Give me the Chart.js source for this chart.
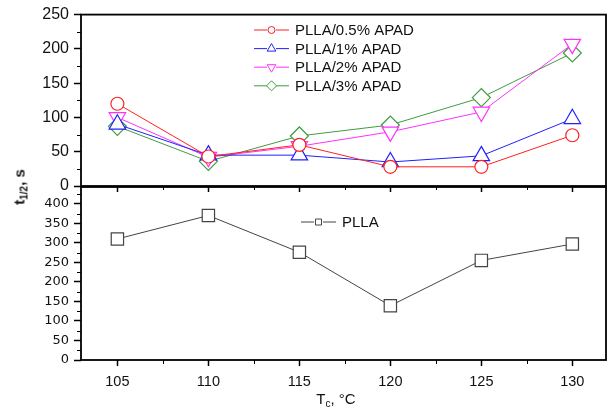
<!DOCTYPE html>
<html lang="en">
<head>
    <meta charset="UTF-8">
    <title>t1/2 vs Tc</title>
    <script src="https://cdn.jsdelivr.net/npm/chart.js"></script>
    <style>
        body { margin: 0; background: #fff; }
        #wrap { position: relative; width: 608px; height: 409px; }
        canvas { position: absolute; left: 0; top: 0; }
        .title { position: absolute; font-family: 'Liberation Sans', Arial, sans-serif; color: #111; white-space: nowrap; }
        .title sub { font-size: 10px; vertical-align: -3px; }
        #ytitle { left: 20px; top: 187px; font-size: 15px; font-weight: bold; transform: translate(-50%, -50%) rotate(-90deg); }
        #xtitle { left: 336px; top: 399px; font-size: 15px; transform: translate(-50%, -50%); }
    </style>
</head>
<body>
    <div id="wrap">
        <canvas id="topChart" width="608" height="409"></canvas>
        <canvas id="bottomChart" width="608" height="409"></canvas>
        <div class="title" id="ytitle">t<sub>1/2</sub>, s</div>
        <div class="title" id="xtitle">T<sub>c</sub>, °C</div>
    </div>

    <script>
        // data
        var temps = [105, 110, 115, 120, 125, 130];
        var apad05 = [120, 43, 60, 28, 28, 74];
        var apad1 = [90, 45, 45, 35, 44, 98];
        var apad2 = [100, 42, 58, 79, 108, 207];
        var apad3 = [87, 36, 73, 89, 129, 194];
        var plla = [310, 370, 276, 139, 255, 297];

        var seriesTop = ['PLLA/0.5% APAD', 'PLLA/1% APAD', 'PLLA/2% APAD', 'PLLA/3% APAD'];
        var seriesBottom = ['PLLA'];

        var xTicks = [105, 110, 115, 120, 125, 130];
        var xMinor = [107.5, 112.5, 117.5, 122.5, 127.5];
        var yTicksTop = [0, 50, 100, 150, 200, 250];
        var yMinorTop = [25, 75, 125, 175, 225];
        var yTicksBottom = [0, 50, 100, 150, 200, 250, 300, 350, 400];
        var yMinorBottom = [25, 75, 125, 175, 225, 275, 325, 375, 425];

        var FONT = "'Liberation Sans', Arial, sans-serif";

        function pts(vals) {
            return temps.map((t, i) => ({ x: t, y: vals[i] }));
        }

        function drawMarker(ctx, shape, x, y, r) {
            ctx.beginPath();
            if (shape === 'circle') {
                ctx.arc(x, y, r, 0, Math.PI * 2);
            } else if (shape === 'triangle') {
                ctx.moveTo(x, y - r);
                ctx.lineTo(x + 0.866 * r, y + r / 2);
                ctx.lineTo(x - 0.866 * r, y + r / 2);
                ctx.closePath();
            } else if (shape === 'triangleDown') {
                ctx.moveTo(x, y + r);
                ctx.lineTo(x + 0.866 * r, y - r / 2);
                ctx.lineTo(x - 0.866 * r, y - r / 2);
                ctx.closePath();
            } else if (shape === 'diamond') {
                ctx.moveTo(x, y - r);
                ctx.lineTo(x + r, y);
                ctx.lineTo(x, y + r);
                ctx.lineTo(x - r, y);
                ctx.closePath();
            } else {
                ctx.rect(x - r, y - r, 2 * r, 2 * r);
            }
            ctx.fillStyle = '#fff';
            ctx.fill();
            ctx.stroke();
        }

        // frame, minor ticks and the in-plot legend
        var framePlugin = {
            id: 'frame',
            afterDraw(chart, args, opts) {
                const ctx = chart.ctx;
                const a = chart.chartArea;
                const xs = chart.scales.x, ys = chart.scales.y;
                ctx.save();
                ctx.strokeStyle = '#000';
                ctx.lineWidth = 1;
                opts.yMinor.forEach(v => {
                    if (v > ys.max) return;
                    const p = Math.round(ys.getPixelForValue(v)) + 0.5;
                    ctx.beginPath(); ctx.moveTo(a.left - 4, p); ctx.lineTo(a.left, p); ctx.stroke();
                });
                xMinor.forEach(v => {
                    const p = Math.round(xs.getPixelForValue(v)) + 0.5;
                    ctx.beginPath(); ctx.moveTo(p, a.bottom); ctx.lineTo(p, a.bottom + 4); ctx.stroke();
                });
                ctx.lineWidth = 1.8;
                ctx.strokeRect(a.left, a.top, a.right - a.left, a.bottom - a.top);

                // legend
                ctx.font = '15px ' + FONT;
                ctx.textBaseline = 'middle';
                opts.legend.forEach((it, i) => {
                    const y = opts.legendY + i * opts.legendStep;
                    const lx = opts.legendX;
                    ctx.strokeStyle = it.color;
                    ctx.lineWidth = 1;
                    ctx.beginPath();
                    ctx.moveTo(lx, y); ctx.lineTo(lx + 13, y);
                    ctx.moveTo(lx + 22, y); ctx.lineTo(lx + 35, y);
                    ctx.stroke();
                    drawMarker(ctx, it.shape, lx + 17.5, y, it.r);
                    ctx.fillStyle = '#111';
                    ctx.fillText(it.label, lx + 41, y + 1);
                });
                ctx.restore();
            }
        };

        function xScale(showLabels) {
            return {
                type: 'linear',
                min: 103,
                max: 131.85,
                afterBuildTicks: s => { s.ticks = xTicks.map(v => ({ value: v })); },
                afterFit: s => { s.height = showLabels ? 49 : 0; },
                grid: { drawOnChartArea: false, drawTicks: true, tickLength: 6, tickColor: '#000', tickWidth: 1.5 },
                border: { display: false },
                ticks: {
                    display: showLabels,
                    padding: 7,
                    color: '#111',
                    font: { family: FONT, size: 14.5 }
                }
            };
        }

        function yScale(max, tickList, font) {
            return {
                type: 'linear',
                min: 0,
                max: max,
                afterBuildTicks: s => { s.ticks = tickList.map(v => ({ value: v })); },
                afterFit: s => { s.width = 81; },
                grid: { drawOnChartArea: false, drawTicks: true, tickLength: 7, tickColor: '#000', tickWidth: 1.5 },
                border: { display: false },
                ticks: { padding: 5, color: '#111', font: font }
            };
        }

        var red = '#ff2020', blue = '#2020ff', magenta = '#ff30ff', green = '#3f9c3f', gray = '#444';

        function series(label, vals, color, style, r, rot) {
            return {
                label: label,
                data: pts(vals),
                borderColor: color,
                borderWidth: 1,
                pointStyle: style,
                pointRotation: rot || 0,
                pointRadius: r,
                pointBorderColor: color,
                pointBackgroundColor: '#fff',
                pointBorderWidth: 1.2,
                tension: 0,
                clip: false
            };
        }

        new Chart(document.getElementById('topChart'), {
            type: 'line',
            data: {
                datasets: [
                    series(seriesTop[0], apad05, red, 'circle', 6.5),
                    series(seriesTop[1], apad1, blue, 'triangle', 9.5),
                    series(seriesTop[2], apad2, magenta, 'triangle', 9.5, 180),
                    series(seriesTop[3], apad3, green, 'rectRot', 9)
                ]
            },
            options: {
                responsive: false,
                animation: false,
                events: [],
                layout: { autoPadding: false, padding: { top: 14, left: 0, right: 2, bottom: 223 } },
                scales: {
                    x: xScale(false),
                    y: yScale(250, yTicksTop, { family: FONT, size: 16 })
                },
                plugins: {
                    legend: { display: false },
                    tooltip: { enabled: false },
                    frame: {
                        yMinor: yMinorTop,
                        legendX: 254,
                        legendY: 30,
                        legendStep: 18.6,
                        legend: [
                            { label: seriesTop[0], color: red, shape: 'circle', r: 3.5 },
                            { label: seriesTop[1], color: blue, shape: 'triangle', r: 5 },
                            { label: seriesTop[2], color: magenta, shape: 'triangleDown', r: 5 },
                            { label: seriesTop[3], color: green, shape: 'diamond', r: 5 }
                        ]
                    }
                }
            },
            plugins: [framePlugin]
        });

        new Chart(document.getElementById('bottomChart'), {
            type: 'line',
            data: {
                datasets: [
                    series(seriesBottom[0], plla, gray, 'rect', 8.7)
                ]
            },
            options: {
                responsive: false,
                animation: false,
                events: [],
                layout: { autoPadding: false, padding: { top: 187, left: 0, right: 2, bottom: 0 } },
                scales: {
                    x: xScale(true),
                    y: yScale(443, yTicksBottom, { family: "'DejaVu Sans', sans-serif", size: 13 })
                },
                plugins: {
                    legend: { display: false },
                    tooltip: { enabled: false },
                    frame: {
                        yMinor: yMinorBottom,
                        legendX: 301,
                        legendY: 222,
                        legendStep: 18,
                        legend: [
                            { label: seriesBottom[0], color: gray, shape: 'square', r: 3 }
                        ]
                    }
                }
            },
            plugins: [framePlugin]
        });
    </script>
</body>
</html>
